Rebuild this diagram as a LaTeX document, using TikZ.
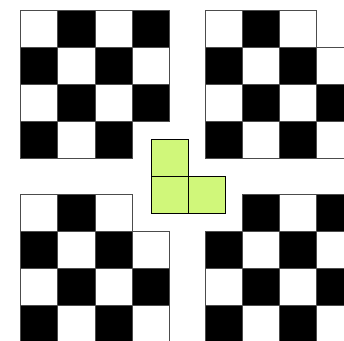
\documentclass[tikz,border=0pt]{standalone}
\usepackage{tikz}

\definecolor{tromgreen}{RGB}{208,247,122}

\begin{document}
\begin{tikzpicture}[
    x=1pt, y=-1pt,
    whitecell/.style={draw=black!70, fill=white, line width=0.7pt},
    blackcell/.style={draw=black!70, fill=black, line width=0.7pt},
    tromcell/.style={draw=black, fill=tromgreen, line width=0.8pt}
  ]
    \useasboundingbox (0,0) rectangle (344,340);
    \def\cellsize{37.1}
    % four quadrants: corner x/y, then the row/column of the missing cell
    \foreach \qx/\qy/\mr/\mc in {20.7/10/4/4, 205.5/10/1/4, 20.7/194.3/1/4, 205.5/194.3/1/1}{
      \foreach \r in {1,...,4}{
        \foreach \c in {1,...,4}{
          \pgfmathtruncatemacro\skipcell{(\r==\mr)&&(\c==\mc)}
          \pgfmathtruncatemacro\isblack{mod(\r+\c,2)}
          \ifnum\skipcell=0
            \ifnum\isblack=1 \def\cellstyle{blackcell}\else \def\cellstyle{whitecell}\fi
            \draw[\cellstyle] ({\qx+(\c-1)*\cellsize},{\qy+(\r-1)*\cellsize}) rectangle ++(\cellsize,\cellsize);
          \fi
        }
      }
    }
    % the L-tromino in the middle
    \foreach \tx/\ty in {151/139.5, 151/176.6, 188.1/176.6}
      \draw[tromcell] (\tx,\ty) rectangle ++(\cellsize,\cellsize);
  \end{tikzpicture}
\end{document}
